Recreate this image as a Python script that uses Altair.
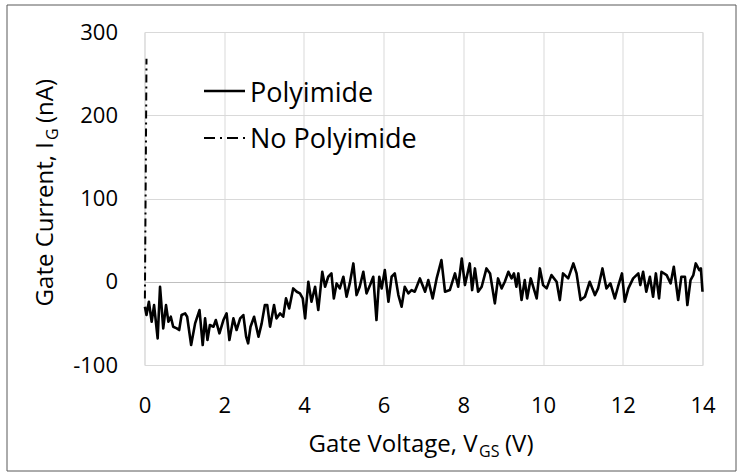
import altair as alt
import pandas as pd

# Polyimide sweep: gate voltage (V) and gate current (nA)
poly_v = [0.01, 0.05, 0.11, 0.18, 0.24, 0.33, 0.39, 0.47, 0.54, 0.60, 0.66, 0.72, 0.81, 0.87, 0.93,
          1.02, 1.07, 1.17, 1.27, 1.38, 1.46, 1.52, 1.58, 1.64, 1.73, 1.79, 1.88, 1.98, 2.06, 2.13,
          2.23, 2.31, 2.40, 2.48, 2.55, 2.60, 2.66, 2.75, 2.86, 2.94, 3.02, 3.08, 3.15, 3.25, 3.31,
          3.40, 3.48, 3.55, 3.63, 3.73, 3.82, 3.90, 3.97, 4.03, 4.11, 4.19, 4.28, 4.36, 4.46, 4.53,
          4.61, 4.69, 4.75, 4.82, 4.90, 4.99, 5.07, 5.15, 5.24, 5.32, 5.40, 5.49, 5.57, 5.66, 5.74,
          5.82, 5.89, 5.95, 6.03, 6.12, 6.20, 6.28, 6.37, 6.45, 6.53, 6.62, 6.70, 6.78, 6.91, 7.04,
          7.12, 7.23, 7.33, 7.45, 7.54, 7.66, 7.79, 7.87, 7.96, 8.04, 8.16, 8.22, 8.29, 8.37, 8.46,
          8.58, 8.67, 8.79, 8.87, 8.96, 9.04, 9.13, 9.21, 9.27, 9.33, 9.38, 9.46, 9.54, 9.60, 9.69,
          9.84, 9.92, 10.00, 10.09, 10.21, 10.34, 10.42, 10.50, 10.63, 10.76, 10.84, 10.94, 11.05,
          11.17, 11.30, 11.38, 11.49, 11.59, 11.69, 11.80, 11.88, 11.98, 12.05, 12.14, 12.26, 12.39,
          12.44, 12.51, 12.59, 12.68, 12.76, 12.83, 12.91, 12.97, 13.10, 13.20, 13.28, 13.39, 13.47,
          13.56, 13.62, 13.70, 13.77, 13.83, 13.92, 13.96, 14.00]
poly_i = [-30, -40, -24, -48, -28, -68, -6, -56, -28, -48, -42, -54, -56, -58, -40,
          -38, -42, -76, -50, -34, -76, -44, -70, -52, -54, -46, -62, -46, -38, -70,
          -44, -58, -44, -40, -66, -74, -54, -42, -66, -50, -28, -28, -54, -28, -44,
          -38, -42, -20, -32, -8, -12, -14, -20, -44, 0, -24, -6, -34, 12, -6,
          6, 10, -20, -2, -8, 6, -18, -2, 22, -16, -6, 12, -14, -4, 6,
          -46, 6, -8, 14, -24, 6, 10, -16, -30, -6, -14, -10, -12, 4, -12,
          2, -20, 4, 26, -12, -10, 10, -6, 28, -4, 22, -10, 16, -12, -6,
          16, 10, -26, 4, -8, 0, 12, 4, 10, -6, 10, -22, 2, -20, 4,
          -20, 16, -4, -8, 8, 0, -22, 10, 4, 22, 10, -22, -18,
          0, -16, -8, 16, -8, -2, -20, -6, 10, -24, -8, 4, 10,
          -4, 12, -12, 6, -18, 10, -20, 12, 8, -2, 18, -22, 6,
          6, -28, 2, 8, 22, 14, 16, -12]

# No-polyimide sweep (rises sharply right at 0 V)
nopoly_v = [0.01, 0.03, 0.05]
nopoly_i = [-20, 120, 268]

x_ticks = [0, 2, 4, 6, 8, 10, 12, 14]
y_ticks = [-100, 0, 100, 200, 300]
legend_labels = ["Polyimide", "No Polyimide"]
x_title = ["Gate Voltage, V", "GS", "(V)"]
y_title = ["Gate Current, I", "G", "(nA)"]

FONT = "Open Sans"
W, H = 558, 333
L, T = 144.5, 32

poly = pd.DataFrame({"V": poly_v, "I": poly_i})
nopoly = pd.DataFrame({"V": nopoly_v, "I": nopoly_i})
one = pd.DataFrame({"k": [0]})

xs = alt.Scale(domain=[0, 14], nice=False, zero=False)
ys = alt.Scale(domain=[-100, 300], nice=False)

grid_color = {"condition": {"test": "datum.value === 0", "value": "#bfbfbf"}, "value": "#d9d9d9"}

poly_line = alt.Chart(poly).mark_line(stroke="black", strokeWidth=2.6, strokeJoin="round").encode(
    x=alt.X("V:Q", scale=xs, axis=alt.Axis(values=x_ticks, title=None, grid=True, gridColor="#d9d9d9",
                                           ticks=False, domain=False, labelPadding=30, labelFontSize=22,
                                           labelFont=FONT, labelColor="black", labelFlush=False,
                                           labelExpr="'' + datum.value")),
    y=alt.Y("I:Q", scale=ys, axis=alt.Axis(values=y_ticks, title=None, grid=True, gridColor=grid_color,
                                           ticks=False, domain=False, labelPadding=27, labelFontSize=22,
                                           labelFont=FONT, labelColor="black", labelFlush=False,
                                           labelExpr="'' + datum.value")),
)

nopoly_line = alt.Chart(nopoly).mark_line(stroke="black", strokeWidth=2, strokeDash=[8, 4, 2, 4]).encode(
    x=alt.X("V:Q", scale=xs),
    y=alt.Y("I:Q", scale=ys),
)

def txt(s, x, y, size, align="left", angle=0):
    kw = dict(text=s, align=align, baseline="alphabetic", fontSize=size, font=FONT, color="black")
    if angle:
        kw["angle"] = angle
    return alt.Chart(one).mark_text(**kw).encode(x=alt.value(x), y=alt.value(y))

leg1 = alt.Chart(one).mark_rule(color="black", strokeWidth=2.5).encode(
    x=alt.value(204 - L), x2=alt.value(245 - L), y=alt.value(91 - T))
leg2 = alt.Chart(one).mark_rule(color="black", strokeWidth=2, strokeDash=[11, 5, 2, 5]).encode(
    x=alt.value(204 - L), x2=alt.value(245 - L), y=alt.value(138 - T))
legt1 = txt(legend_labels[0], 250 - L, 101.5 - T, 27)
legt2 = txt(legend_labels[1], 250 - L, 148 - T, 27)

xt1 = txt(x_title[0], 477.5 - L, 452 - T, 24, align="right")
xt2 = txt(x_title[1], 479 - L, 457 - T, 16)
xt3 = txt(x_title[2], 505 - L, 452 - T, 24)

yt1 = txt(y_title[0], 53 - L, 142 - T, 24, align="right", angle=270)
yt2 = txt(y_title[1], 58 - L, 140 - T, 16, angle=270)
yt3 = txt(y_title[2], 53 - L, 123 - T, 24, angle=270)

frame = alt.Chart(one).mark_rect(fillOpacity=0, stroke="#595959", strokeWidth=1).encode(
    x=alt.value(7 - L), x2=alt.value(736 - L), y=alt.value(5 - T), y2=alt.value(471 - T))

chart = alt.layer(
    poly_line, nopoly_line, leg1, leg2, legt1, legt2, xt1, xt2, xt3, yt1, yt2, yt3, frame
).properties(
    width=W, height=H,
    autosize=alt.AutoSizeParams(type="none"),
    padding={"left": L, "top": T, "right": 738 - L - W, "bottom": 473 - T - H},
    background="white",
).configure_view(stroke="#d9d9d9")

chart.save("out.html", embed_options={"renderer": "svg", "actions": False})
